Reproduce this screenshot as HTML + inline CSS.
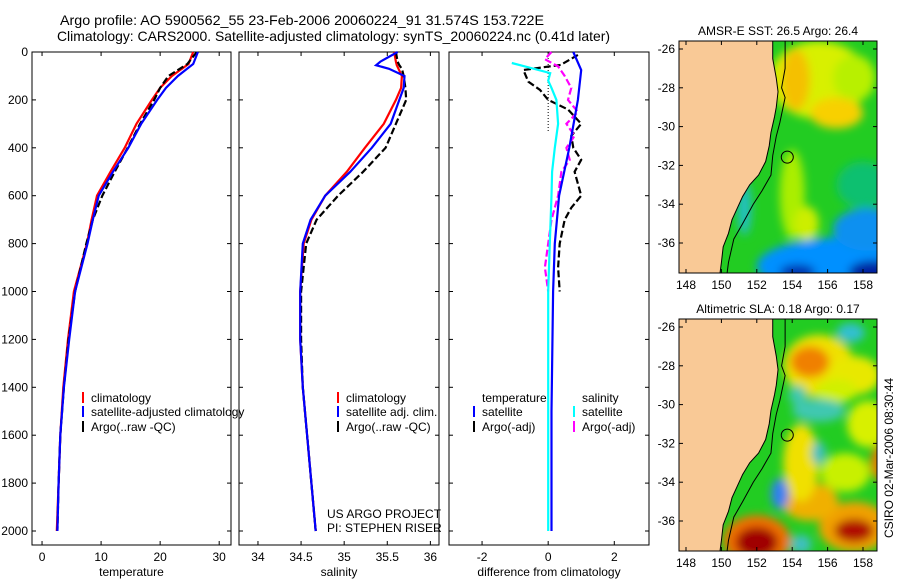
<!DOCTYPE html>
<html><head><meta charset="utf-8"><style>
html,body{margin:0;padding:0;background:#fff;}
svg{display:block;font-family:"Liberation Sans",Arial,sans-serif;}
</style></head><body>
<svg id="fig" width="900" height="580" viewBox="0 0 900 580" xmlns="http://www.w3.org/2000/svg">
<defs>
<filter id="blur" x="-50%" y="-50%" width="200%" height="200%"><feGaussianBlur stdDeviation="4.5"/></filter>
<clipPath id="clipm1"><rect x="679" y="41" width="198" height="232"/></clipPath>
<clipPath id="clipm2"><rect x="679" y="319" width="198" height="232"/></clipPath>
</defs>
<text x="60" y="25" font-size="14" textLength="484" lengthAdjust="spacingAndGlyphs">Argo profile: AO 5900562_55 23-Feb-2006 20060224_91 31.574S 153.722E</text>
<text x="57" y="41" font-size="14" textLength="553" lengthAdjust="spacingAndGlyphs">Climatology: CARS2000. Satellite-adjusted climatology: synTS_20060224.nc (0.41d later)</text>
<g id="g"></g>
</svg>
<script>
// ---------- data ----------
const depthT = [0, 50, 100, 150, 200, 300, 400, 500, 600, 700, 800, 1000, 1200, 1400, 1600, 1800, 2000];
const tempClim = [25.6, 24.8, 22.0, 20.0, 18.6, 16.0, 14.0, 11.6, 9.3, 8.4, 7.6, 5.4, 4.4, 3.6, 3.1, 2.8, 2.5];
const tempSat = [26.4, 25.6, 23.0, 21.0, 19.5, 16.8, 14.6, 12.0, 9.6, 8.6, 7.7, 5.6, 4.6, 3.7, 3.1, 2.8, 2.6];
const tempArgo = [26.2, 24.6, 21.4, 20.0, 19.0, 16.6, 14.5, 12.3, 10.2, 8.6, 7.5, 5.6, 4.5, 3.7, 3.1, 2.8, 2.6];

const depthS = [0, 40, 55, 70, 100, 150, 200, 300, 400, 500, 600, 700, 800, 1000, 1200, 1400, 1600, 1800, 2000];
const salClim = [35.58, 35.6, 35.61, 35.63, 35.67, 35.66, 35.6, 35.46, 35.24, 35.03, 34.78, 34.62, 34.53, 34.49, 34.49, 34.52, 34.57, 34.62, 34.67];
const salSat = [35.62, 35.42, 35.37, 35.52, 35.7, 35.69, 35.64, 35.54, 35.32, 35.07, 34.78, 34.61, 34.52, 34.49, 34.49, 34.52, 34.57, 34.62, 34.67];
const salArgo = [35.6, 35.62, 35.64, 35.67, 35.69, 35.71, 35.72, 35.6, 35.48, 35.22, 34.93, 34.68, 34.56, 34.5, 34.5, 34.52, 34.57, 34.62, 34.67];

const depthD = [0, 75, 200, 400, 600, 800, 1000, 1500, 2000];
const diffTempSat = [0.76, 1.0, 0.9, 0.64, 0.33, 0.2, 0.15, 0.1, 0.1];
const depthDS = [46, 60, 88, 120, 150, 200, 300, 400, 500, 600, 800, 1000, 1500, 2000];
const diffSalSat = [-1.1, -0.7, 0.06, 0.0, 0.1, 0.25, 0.3, 0.2, 0.12, 0.1, 0.05, 0.0, 0.0, 0.0];
const depthDA = [12, 54, 75, 124, 158, 200, 240, 300, 350, 400, 450, 500, 550, 600, 650, 700, 800, 900, 1000];
const diffTempArgo = [0.9, 0.38, -0.75, -0.6, -0.25, 0.0, 0.6, 1.0, 0.7, 0.76, 1.0, 0.8, 0.9, 1.0, 0.7, 0.5, 0.35, 0.3, 0.35];
const depthDM = [0, 30, 60, 100, 150, 200, 250, 300, 350, 400, 450, 500, 600, 700, 800, 900, 1000];
const diffSalArgo = [0.1, -0.1, 0.3, 0.5, 0.7, 0.6, 0.9, 0.55, 0.8, 0.55, 0.65, 0.4, 0.3, 0.1, 0.0, -0.1, 0.0];

const depthTicks = [0, 200, 400, 600, 800, 1000, 1200, 1400, 1600, 1800, 2000];
const tempTicks = [0, 10, 20, 30];
const salTicks = [34, 34.5, 35, 35.5, 36];
const diffTicks = [-2, 0, 2];
const lonTicks = [148, 150, 152, 154, 156, 158];
const latTicks = [-26, -28, -30, -32, -34, -36];

// ---------- helpers ----------
const NS = "http://www.w3.org/2000/svg";
const G = document.getElementById('g');
function mk(tag, attrs, parent) {
  const e = document.createElementNS(NS, tag);
  for (const k in attrs) e.setAttribute(k, attrs[k]);
  (parent || G).appendChild(e);
  return e;
}
function txt(x, y, s, size, anchor, parent) {
  const t = mk('text', {x: x, y: y, 'font-size': size || 12, 'text-anchor': anchor || 'start'}, parent);
  t.textContent = s;
  return t;
}
const yTop = 52, yScale = (531 - 52) / 2000, yBot = 545;
const dy = d => yTop + d * yScale;

const panels = [
  {x0: 32, x1: 231, lo: -1.7, hi: 32.0, ticks: tempTicks, label: 'temperature', name: 'temperature-panel'},
  {x0: 239, x1: 439, lo: 33.78, hi: 36.1, ticks: salTicks, label: 'salinity', name: 'salinity-panel'},
  {x0: 449, x1: 649, lo: -3.0, hi: 3.05, ticks: diffTicks, label: 'difference from climatology', name: 'difference-panel'}
];
panels.forEach(p => { p.fx = v => p.x0 + (v - p.lo) / (p.hi - p.lo) * (p.x1 - p.x0); });

function drawLine(p, depths, vals, color, dashed, name) {
  const pts = depths.map((d, i) => p.fx(vals[i]).toFixed(1) + ',' + dy(d).toFixed(1)).join(' ');
  const l = mk('polyline', {points: pts, fill: 'none', stroke: color, 'stroke-width': 2.2, 'stroke-dasharray': dashed ? '7,3' : 'none'});
  
  
}

panels.forEach((p, pi) => {
  const fr = mk('rect', {x: p.x0, y: yTop, width: p.x1 - p.x0, height: yBot - yTop, fill: 'none', stroke: '#000', 'stroke-width': 1});
  
  
  p.ticks.forEach(t => {
    const x = p.fx(t);
    mk('line', {x1: x, y1: yBot, x2: x, y2: yBot - 4, stroke: '#000'});
    mk('line', {x1: x, y1: yTop, x2: x, y2: yTop + 4, stroke: '#000'});
    const lb = txt(x, 561, String(t), 12, 'middle');
    
    
  });
  depthTicks.forEach(d => {
    const y = dy(d);
    mk('line', {x1: p.x0, y1: y, x2: p.x0 + 4, y2: y, stroke: '#000'});
    mk('line', {x1: p.x1, y1: y, x2: p.x1 - 4, y2: y, stroke: '#000'});
    if (pi === 0) {
      const lb = txt(28, y + 4, String(d), 12, 'end');
      
      
    }
  });
  const xl = txt((p.x0 + p.x1) / 2, 576, p.label, 12, 'middle');
  
  
});

drawLine(panels[0], depthT, tempClim, '#ff0000', false, 'temp-climatology-line');
drawLine(panels[0], depthT, tempArgo, '#000', true, 'temp-argo-line');
drawLine(panels[0], depthT, tempSat, '#0000ff', false, 'temp-satellite-line');
drawLine(panels[1], depthS, salClim, '#ff0000', false, 'sal-climatology-line');
drawLine(panels[1], depthS, salArgo, '#000', true, 'sal-argo-line');
drawLine(panels[1], depthS, salSat, '#0000ff', false, 'sal-satellite-line');
const zl = mk('line', {x1: panels[2].fx(0), y1: yTop, x2: panels[2].fx(0), y2: dy(330), stroke: '#000', 'stroke-dasharray': '1,2'});


drawLine(panels[2], depthDA, diffTempArgo, '#000', true, 'diff-temp-argo-line');
drawLine(panels[2], depthDM, diffSalArgo, '#ff00ff', true, 'diff-sal-argo-line');
drawLine(panels[2], depthD, diffTempSat, '#0000ff', false, 'diff-temp-satellite-line');
drawLine(panels[2], depthDS, diffSalSat, '#00ffff', false, 'diff-sal-satellite-line');

function legendEntry(x, y, color, label) {
  const g = mk('g', {});
  
  
  if (color) mk('line', {x1: x, y1: y - 10, x2: x, y2: y + 1, stroke: color, 'stroke-width': 2}, g);
  txt(x + 8, y, label, 12, 'start', g);
}
legendEntry(83, 402, '#ff0000', 'climatology');
legendEntry(83, 416, '#0000ff', 'satellite-adjusted climatology');
legendEntry(83, 431, '#000', 'Argo(..raw -QC)');
legendEntry(338, 402, '#ff0000', 'climatology');
legendEntry(338, 416, '#0000ff', 'satellite adj. clim.');
legendEntry(338, 431, '#000', 'Argo(..raw -QC)');
legendEntry(474, 402, null, 'temperature');
legendEntry(474, 416, '#0000ff', 'satellite');
legendEntry(474, 431, '#000', 'Argo(-adj)');
legendEntry(574, 402, null, 'salinity');
legendEntry(574, 416, '#00ffff', 'satellite');
legendEntry(574, 431, '#ff00ff', 'Argo(-adj)');
const c1 = txt(327, 518, 'US ARGO PROJECT', 12);


const c2 = txt(327, 532, 'PI: STEPHEN RISER', 12);



// ---------- maps ----------
const coast = [[152.9,-25.5],[152.9,-26.5],[153.1,-27.5],[153.2,-28.2],[153.1,-29],[153.0,-29.5],[152.8,-30.3],[152.7,-31],[152.5,-31.8],[152.1,-32.5],[151.6,-33],[151.2,-33.6],[150.9,-34.2],[150.6,-34.8],[150.4,-35.5],[150.1,-36.2],[150.0,-37],[149.9,-37.7]];
const isobath = [[153.6,-25.5],[153.6,-27],[153.4,-28],[153.6,-28.5],[153.3,-29.8],[153.1,-30.5],[152.9,-31.5],[152.8,-32.5],[152.3,-33.3],[151.8,-34],[151.2,-35],[150.7,-35.8],[150.4,-37],[150.3,-37.7]];
const sstBlobs = [
  [155.5,-27.6,2.8,2.0,'#d8f000'],[157.5,-27.5,1.2,1.2,'#b8f000'],[154.2,-27.6,0.8,1.6,'#f5c000'],[156.5,-29.3,1.5,0.8,'#f8d000'],
  [154,-33.5,0.7,2.3,'#aaee00'],[154.8,-35,0.7,0.9,'#ccee00'],[158,-33,1.5,1.2,'#10c070'],
  [157,-37.2,5,1.5,'#0090ff'],[158.3,-35.3,2.0,1.1,'#1090f0'],[158.6,-37.5,1.4,0.6,'#0020a0'],
  [154.3,-37.5,1,0.4,'#0030b0'],[151.3,-34.2,0.4,1.4,'#20c0c0']
];
const slaBlobs = [
  [155.5,-28,2,1.6,'#f0e000'],[155,-27.8,1.1,0.8,'#f08000'],[157.5,-28.5,1.5,1,'#e8e800'],
  [156.5,-29.3,1.2,0.6,'#d0f000'],[158.3,-31,1.2,1.2,'#d8f000'],[157,-33.5,1.4,1,'#c8f000'],
  [152,-37,1.9,1.3,'#f07000'],[152,-37.1,1.2,0.8,'#a00000'],
  [157.5,-36.3,2,1.3,'#f0a000'],[157.5,-36.5,1.1,0.6,'#b01000'],
  [155,-35,1.6,1,'#f0b000'],[154.5,-33,1,2,'#f0e000'],[159.2,-33,0.8,1,'#e08000'],
  [157.3,-26.3,0.8,0.5,'#30c0d0'],[155.5,-30.3,1.5,0.6,'#40c8b0'],[155.5,-32.5,0.4,0.6,'#40c0c0'],
  [153.3,-34.6,0.5,0.8,'#3080f0'],[154.5,-37.2,0.6,0.5,'#40c0c0'],[154.3,-29.5,0.5,0.5,'#40c8b0']
];
function drawMap(top, blobs, clip, title, name) {
  const mx = lon => 686 + (lon - 148) * 17.7;
  const my = lat => top + 8 + (-26 - lat) * 19.4;
  const g = mk('g', {'clip-path': 'url(#' + clip + ')'});
  
  
  mk('rect', {x: 679, y: top, width: 198, height: 232, fill: '#22cc22'}, g);
  const bg = mk('g', {filter: 'url(#blur)'}, g);
  blobs.forEach(b => mk('ellipse', {cx: mx(b[0]), cy: my(b[1]), rx: b[2] * 17.7, ry: b[3] * 19.4, fill: b[4]}, bg));
  const landPts = coast.map(c => mx(c[0]) + ',' + my(c[1])).concat([mx(146) + ',' + my(-37.7), mx(146) + ',' + my(-25.5)]).join(' ');
  const land = mk('polygon', {points: landPts, fill: '#f9c996', stroke: '#000', 'stroke-width': 1}, g);
  
  
  mk('polyline', {points: isobath.map(c => mx(c[0]) + ',' + my(c[1])).join(' '), fill: 'none', stroke: '#000', 'stroke-width': 1}, g);
  const pos = mk('circle', {cx: mx(153.722), cy: my(-31.574), r: 6, fill: 'none', stroke: '#000'});
  
  
  mk('rect', {x: 679, y: top, width: 198, height: 232, fill: 'none', stroke: '#000'});
  lonTicks.forEach(l => {
    mk('line', {x1: mx(l), y1: top + 232, x2: mx(l), y2: top + 228, stroke: '#000'});
    mk('line', {x1: mx(l), y1: top, x2: mx(l), y2: top + 4, stroke: '#000'});
    const t = txt(mx(l), top + 248, String(l), 12, 'middle');
    
    
  });
  latTicks.forEach(l => {
    mk('line', {x1: 679, y1: my(l), x2: 683, y2: my(l), stroke: '#000'});
    mk('line', {x1: 877, y1: my(l), x2: 873, y2: my(l), stroke: '#000'});
    const t = txt(675, my(l) + 4, String(l), 12, 'end');
    
    
  });
  const tt = txt(778, top - 6, title, 12, 'middle');
  
  
}
drawMap(41, sstBlobs, 'clipm1', 'AMSR-E SST: 26.5 Argo: 26.4', 'sst-map');
drawMap(319, slaBlobs, 'clipm2', 'Altimetric SLA: 0.18 Argo: 0.17', 'sla-map');
const stamp = txt(0, 0, 'CSIRO 02-Mar-2006 08:30:44', 12, 'middle');
stamp.setAttribute('transform', 'translate(893,458) rotate(-90)');


</script>
</body></html>
